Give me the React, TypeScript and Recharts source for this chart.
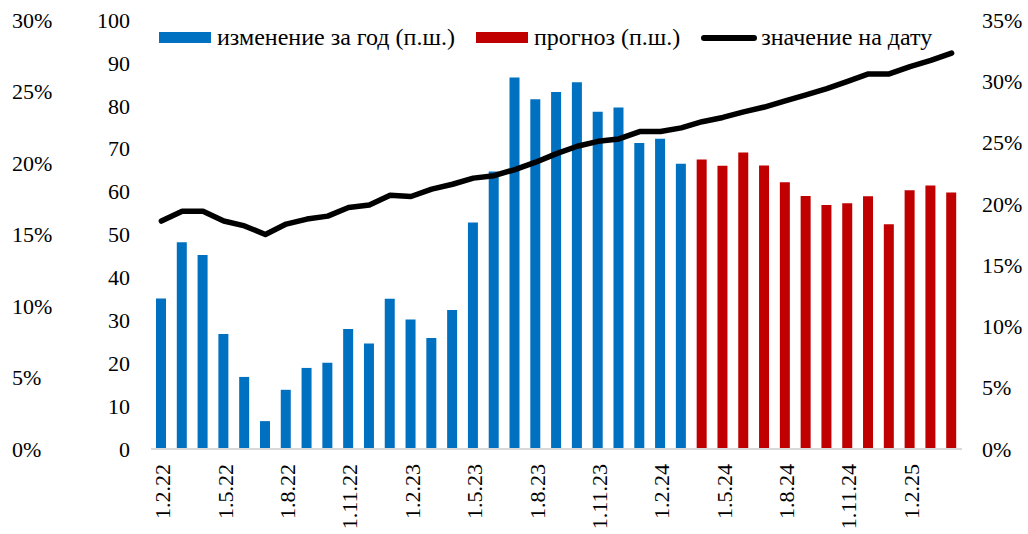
import React from 'react';
import { ComposedChart, Bar, Line, XAxis, YAxis, Legend } from 'recharts';

// месяцы с 1.2.22 по 1.4.25
const months = [
  '1.2.22', '1.3.22', '1.4.22', '1.5.22', '1.6.22', '1.7.22', '1.8.22', '1.9.22', '1.10.22', '1.11.22', '1.12.22',
  '1.1.23', '1.2.23', '1.3.23', '1.4.23', '1.5.23', '1.6.23', '1.7.23', '1.8.23', '1.9.23', '1.10.23', '1.11.23', '1.12.23',
  '1.1.24', '1.2.24', '1.3.24', '1.4.24', '1.5.24', '1.6.24', '1.7.24', '1.8.24', '1.9.24', '1.10.24', '1.11.24', '1.12.24',
  '1.1.25', '1.2.25', '1.3.25', '1.4.25',
];

// изменение за год (факт), 1.2.22 - 1.3.24
const yearChange = [
  35.1, 48.2, 45.2, 26.8, 16.8, 6.5, 13.8, 18.9, 20.1, 28.0, 24.6, 35.0, 30.2,
  25.9, 32.4, 52.8, 64.7, 86.6, 81.5, 83.2, 85.5, 78.6, 79.6, 71.3, 72.3, 66.5,
];

// прогноз, 1.4.24 - 1.4.25
const forecast = [67.5, 66.0, 69.1, 66.1, 62.2, 59.0, 56.9, 57.3, 58.9, 52.4, 60.3, 61.4, 59.8];

// значение на дату, %
const level = [
  18.6, 19.4, 19.4, 18.6, 18.2, 17.5, 18.35, 18.76, 19.0, 19.7, 19.9, 20.7, 20.6,
  21.2, 21.6, 22.1, 22.3, 22.8, 23.4, 24.1, 24.7, 25.1, 25.3, 25.9, 25.9, 26.2,
  26.7, 27.05, 27.5, 27.9, 28.4, 28.9, 29.4, 30.0, 30.6, 30.6, 31.2, 31.7, 32.3,
];

const countTicks = [0, 10, 20, 30, 40, 50, 60, 70, 80, 90, 100];
const leftPctTicks = [0, 5, 10, 15, 20, 25, 30];
const rightPctTicks = [0, 5, 10, 15, 20, 25, 30, 35];

const data = months.map((m, i) => ({
  date: m,
  change: i < yearChange.length ? yearChange[i] : null,
  forecast: i >= yearChange.length ? forecast[i - yearChange.length] : null,
  level: level[i],
}));

const FONT = '"Liberation Serif", "Times New Roman", serif';
const textStyle = { fontFamily: FONT, fontSize: 22, fill: '#000' };

const PctTick = (props: any) => (
  <text x={props.x} y={props.y} dy="0.35em" textAnchor="start" {...textStyle}>
    {props.payload.value}%
  </text>
);

const EndTick = (props: any) => (
  <text x={props.x} y={props.y} dy="0.35em" textAnchor="end" {...textStyle}>
    {props.payload.value}
  </text>
);

const DateTick = (props: any) => {
  const { x, y, payload } = props;
  return (
    <text x={x} y={y} dy="0.4em" textAnchor="end" transform={`rotate(-90, ${x}, ${y})`} {...textStyle}>
      {payload.value}
    </text>
  );
};

const LegendContent = (props: any) => (
  <div style={{ display: 'flex', alignItems: 'center', fontFamily: FONT, fontSize: 24, lineHeight: '27px', whiteSpace: 'nowrap', color: '#000' }}>
    {(props.payload || [])
      .filter((e: any) => e.type !== 'none')
      .map((e: any) => (
        <div key={e.value} style={{ display: 'flex', alignItems: 'center', marginRight: 21 }}>
          {e.type === 'line' ? (
            <div style={{ width: 56, height: 6, borderRadius: 3, background: e.color, marginRight: 4 }} />
          ) : (
            <div style={{ width: 52, height: 11, background: e.color, marginRight: 6 }} />
          )}
          <span>{e.value}</span>
        </div>
      ))}
  </div>
);

export default function App() {
  return (
    <div>
      <style>{'body{margin:0}'}</style>
      <ComposedChart width={1028} height={534} data={data} margin={{ top: 20, right: 0, bottom: 0, left: 0 }}>
        <XAxis
          dataKey="date"
          interval={2}
          height={85}
          tickLine={false}
          tickSize={0}
          tickMargin={15}
          axisLine={{ stroke: '#d9d9d9', strokeWidth: 2 }}
          tick={<DateTick />}
        />
        <YAxis
          yAxisId="count"
          orientation="left"
          width={96}
          domain={[0, 100]}
          ticks={countTicks}
          axisLine={false}
          tickLine={false}
          tickSize={0}
          tickMargin={21}
          tick={<EndTick />}
        />
        <YAxis
          yAxisId="pctLeft"
          orientation="left"
          width={55}
          domain={[0, 30]}
          allowDataOverflow
          ticks={leftPctTicks}
          axisLine={false}
          tickLine={false}
          tickSize={0}
          tickMargin={43}
          tick={<PctTick />}
        />
        <YAxis
          yAxisId="pctRight"
          orientation="right"
          width={66}
          domain={[0, 35]}
          ticks={rightPctTicks}
          axisLine={false}
          tickLine={false}
          tickSize={0}
          tickMargin={20}
          tick={<PctTick />}
        />
        <Legend
          layout="horizontal"
          align="center"
          verticalAlign="middle"
          itemSorter="dataKey"
          wrapperStyle={{ top: 24, left: 159, width: 860 }}
          content={<LegendContent />}
        />
        <Bar yAxisId="count" dataKey="change" name="изменение за год (п.ш.)" stackId="s" fill="#0070C0" barSize={10} isAnimationActive={false} />
        <Bar yAxisId="count" dataKey="forecast" name="прогноз (п.ш.)" stackId="s" fill="#C00000" barSize={10} isAnimationActive={false} />
        {/* невидимая привязка внешней левой шкалы */}
        <Line yAxisId="pctLeft" dataKey="level" stroke="none" dot={false} activeDot={false} legendType="none" isAnimationActive={false} />
        <Line
          yAxisId="pctRight"
          dataKey="level"
          name="значение на дату"
          type="linear"
          stroke="#000"
          strokeWidth={5.5}
          strokeLinecap="round"
          strokeLinejoin="round"
          dot={false}
          activeDot={false}
          legendType="line"
          isAnimationActive={false}
        />
      </ComposedChart>
    </div>
  );
}
